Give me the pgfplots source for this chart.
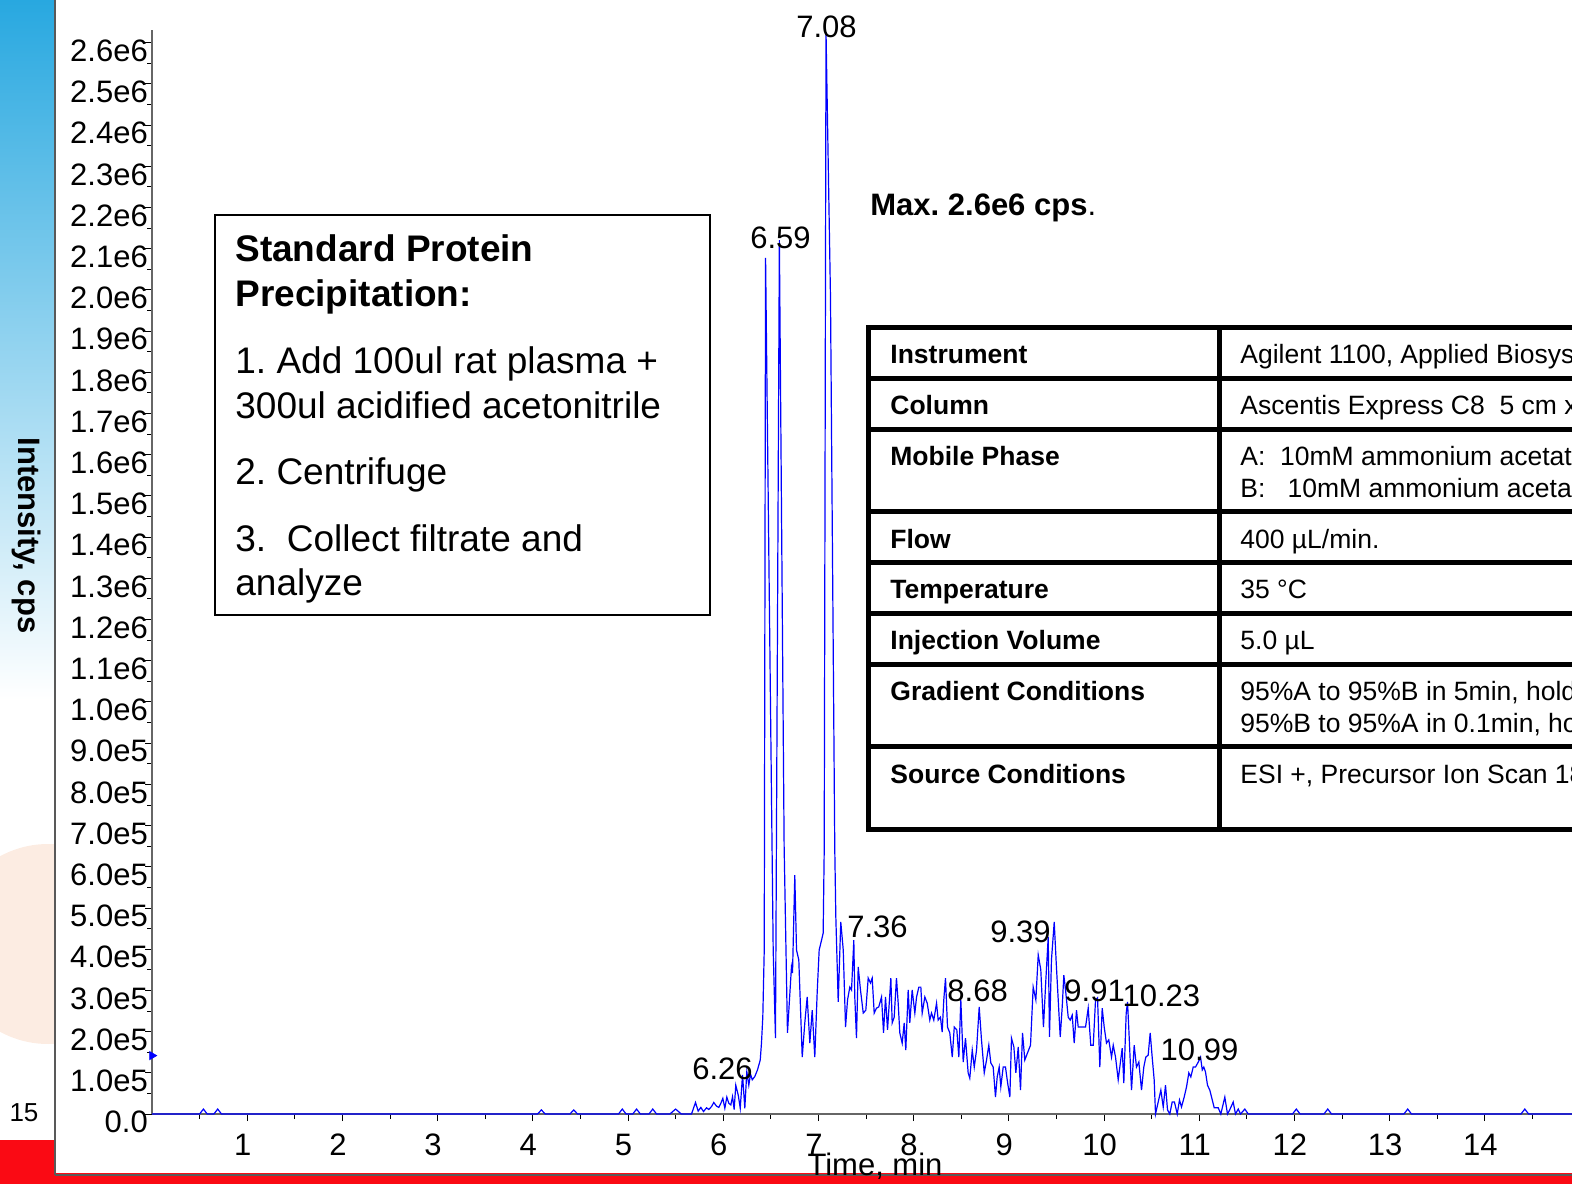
\documentclass[border=0pt]{standalone}
\usepackage{pgfplots}
\pgfplotsset{compat=1.18}
\usepackage{fontspec}
\setmainfont{Liberation Sans}
\frenchspacing
\definecolor{stripblue}{RGB}{40,168,224}
\definecolor{stripcyan}{RGB}{196,238,248}
\definecolor{slidered}{RGB}{250,10,20}
\definecolor{blob}{RGB}{252,236,226}
\definecolor{traceblue}{RGB}{0,0,255}
\newcommand{\tickfont}{\fontsize{15.5}{18}\selectfont}
\newcommand{\boxfont}{\fontsize{18.5}{22}\selectfont}
\newcommand{\tabfont}{\fontsize{13.25}{16}\selectfont}
\begin{document}
\begin{tikzpicture}[x=1pt,y=1pt]
\useasboundingbox (0,0) rectangle (786,592);
\clip (0,0) rectangle (786,592);
% slide decoration
\shade[top color=stripblue, middle color=stripcyan, bottom color=white] (0,242) rectangle (27.5,592);
\begin{scope}
\clip (0,22) rectangle (27.5,242);
\fill[blob] (24,120) circle (50);
\end{scope}
\fill[slidered] (0,0) rectangle (27.5,22);
\fill[slidered] (0,0) rectangle (786,5.5);
\draw[black!65, line width=0.8pt] (27.5,4.5) -- (27.5,592);
\draw[black!65, line width=0.8pt] (27.5,4.5) -- (786,4.5);
\node[anchor=base, inner sep=0, font=\fontsize{13}{15}\selectfont] at (12,31.5) {15};

\begin{axis}[
  at={(76pt,35pt)}, anchor=south west,
  scale only axis, width=714pt, height=541.78pt,
  xmin=0, xmax=15, ymin=0, ymax=2630000,
  axis lines=left,
  axis line style={-, draw=black!60, line width=0.9pt},
  tick align=outside,
  major tick length=3.5pt, minor tick length=2.5pt,
  tick style={black, line width=0.5pt},
  xtick={1,2,3,4,5,6,7,8,9,10,11,12,13,14},
  xticklabels={1,2,3,4,5,6,7,8,9,10,11,12,13,14},
  minor xtick={0.5,1.5,...,14.5},
  ytick={0,100000,...,2600000},
  minor ytick={50000,150000,...,2550000},
  yticklabels={0.0,1.0e5,2.0e5,3.0e5,4.0e5,5.0e5,6.0e5,7.0e5,8.0e5,9.0e5,1.0e6,1.1e6,1.2e6,1.3e6,1.4e6,1.5e6,1.6e6,1.7e6,1.8e6,1.9e6,2.0e6,2.1e6,2.2e6,2.3e6,2.4e6,2.5e6,2.6e6},
  scaled y ticks=false,
  ticklabel style={font=\tickfont},
  xticklabel style={anchor=center, yshift=-12pt, xshift=-2.25pt},
  yticklabel style={anchor=east, inner sep=0pt, xshift=1.6pt, yshift=-4pt},
  xlabel={Time, min},
  ylabel={Intensity, cps},
  xlabel style={at={(axis description cs:0.5063,-0.048)}, anchor=center, font=\tickfont},
  ylabel style={at={(axis description cs:-0.0882,0.534)}, anchor=center, rotate=180, font=\bfseries\fontsize{15.5}{18}\selectfont},
  clip=false,
]
\addplot[traceblue, line width=0.6pt, mark=none] coordinates {
(0,0) (0.50,0) (0.54,0.12e5) (0.58,0) (0.65,0) (0.69,0.12e5) (0.73,0) (4.05,0) (4.09,0.1e5) (4.13,0) (4.39,0) (4.43,0.1e5) (4.47,0) (4.90,0) (4.94,0.12e5) (4.98,0) (5.05,0) (5.09,0.12e5) (5.13,0) (5.22,0) (5.26,0.12e5) (5.30,0) (5.44,0) (5.50,0.12e5) (5.56,0) (5.667,0)
(5.709,0.28e5) (5.737,0.07e5) (5.765,0.16e5) (5.793,0.06e5) (5.825,0.15e5) (5.849,0.11e5) (5.877,0.18e5) (5.901,0.28e5) (5.930,0.19e5) (5.954,0.16e5) (5.975,0.26e5) (5.996,0.38e5) (6.017,0.14e5) (6.038,0.41e5) (6.059,0.26e5) (6.080,0.22e5) (6.098,0.42e5) (6.115,0.11e5) (6.132,0.70e5) (6.158,0.46e5) (6.179,0.14e5) (6.203,0.95e5) (6.227,0.14e5) (6.248,1.03e5) (6.269,0.70e5) (6.287,0.97e5) (6.305,0.83e5) (6.332,0.91e5) (6.360,1.07e5) (6.389,1.31e5) (6.402,1.72e5) (6.416,2.36e5) (6.431,3.98e5)
(6.445,20.78e5) (6.525,3.98e5) (6.549,1.84e5) (6.590,21.21e5) (6.640,6.5e5) (6.675,1.97e5)
(6.717,3.57e5) (6.728,3.42e5) (6.752,5.80e5) (6.770,3.98e5) (6.794,3.74e5) (6.830,1.38e5) (6.857,2.21e5) (6.882,2.84e5) (6.910,1.72e5) (6.935,2.52e5) (6.962,1.38e5) (6.987,2.94e5) (7.008,3.98e5) (7.033,4.22e5) (7.050,4.39e5) (7.061,6.41e5)
(7.080,26.26e5) (7.127,19.8e5) (7.172,6.41e5) (7.183,4.78e5) (7.208,2.72e5) (7.235,4.66e5) (7.261,3.98e5) (7.285,2.11e5) (7.306,2.77e5) (7.330,3.08e5) (7.348,3.01e5) (7.372,4.22e5) (7.382,2.84e5) (7.400,1.84e5) (7.418,3.57e5) (7.442,3.01e5) (7.471,2.45e5) (7.498,2.52e5) (7.523,3.30e5) (7.547,3.18e5) (7.565,3.30e5) (7.586,2.45e5) (7.610,2.57e5) (7.634,2.60e5) (7.663,2.84e5) (7.684,1.97e5) (7.705,2.84e5) (7.726,2.04e5) (7.761,3.30e5) (7.775,2.21e5) (7.796,2.35e5) (7.820,3.30e5) (7.838,2.69e5) (7.855,1.97e5) (7.880,1.72e5) (7.901,2.21e5) (7.918,1.55e5) (7.943,3.01e5) (7.960,2.21e5) (7.985,3.01e5)
(8.013,2.45e5) (8.031,2.84e5) (8.055,3.08e5) (8.076,3.08e5) (8.090,2.45e5) (8.118,2.84e5) (8.143,2.69e5) (8.170,2.28e5) (8.188,2.45e5) (8.212,2.28e5) (8.241,2.69e5) (8.258,2.28e5) (8.282,2.35e5) (8.300,1.99e5) (8.317,2.77e5) (8.335,3.30e5) (8.356,2.11e5) (8.380,1.97e5) (8.406,1.38e5) (8.427,2.11e5) (8.454,2.04e5) (8.475,1.38e5) (8.496,2.77e5) (8.521,1.26e5) (8.545,1.84e5) (8.573,1.00e5) (8.590,0.87e5) (8.616,1.55e5) (8.637,1.14e5) (8.661,1.55e5) (8.689,2.60e5) (8.713,1.80e5) (8.742,1.00e5) (8.766,1.31e5) (8.790,1.67e5) (8.811,1.24e5) (8.836,1.14e5) (8.860,0.41e5) (8.878,0.90e5) (8.899,1.14e5) (8.916,0.66e5) (8.941,1.14e5) (8.965,1.14e5) (8.986,0.78e5)
(9.011,0.41e5) (9.028,1.84e5) (9.053,1.63e5) (9.074,1.00e5) (9.099,1.63e5) (9.123,0.58e5) (9.144,1.97e5) (9.168,1.31e5) (9.196,1.48e5) (9.228,1.67e5) (9.256,3.08e5) (9.284,2.77e5) (9.309,3.86e5) (9.336,3.50e5) (9.364,2.11e5) (9.389,3.25e5) (9.414,4.30e5) (9.427,1.87e5) (9.448,3.74e5) (9.477,4.66e5) (9.498,3.67e5) (9.519,2.77e5) (9.540,1.87e5) (9.561,2.60e5) (9.578,3.37e5) (9.596,3.01e5) (9.624,2.35e5) (9.645,2.28e5) (9.666,2.40e5) (9.687,1.72e5) (9.711,2.52e5) (9.729,2.11e5) (9.753,2.11e5) (9.782,2.11e5) (9.806,2.11e5) (9.834,2.57e5) (9.861,1.67e5) (9.887,1.67e5) (9.911,2.77e5) (9.932,2.82e5) (9.956,1.14e5) (9.981,2.57e5)
(10.002,2.11e5) (10.026,1.72e5) (10.050,1.80e5) (10.079,1.38e5) (10.097,1.67e5) (10.121,1.38e5) (10.149,0.83e5) (10.166,1.14e5) (10.191,1.60e5) (10.208,0.75e5) (10.233,2.45e5) (10.247,2.72e5) (10.261,2.04e5) (10.289,0.58e5) (10.317,1.67e5) (10.341,1.14e5) (10.366,1.26e5) (10.394,0.58e5) (10.418,1.14e5) (10.439,1.38e5) (10.464,1.43e5) (10.485,1.97e5) (10.506,1.38e5) (10.527,0.83e5) (10.541,0) (10.569,0.29e5) (10.597,0.58e5) (10.622,0.17e5) (10.646,0.70e5) (10.667,0.10e5) (10.691,0) (10.716,0.29e5) (10.740,0.29e5) (10.769,0) (10.793,0.34e5) (10.814,0.17e5) (10.842,0.41e5) (10.867,0.66e5) (10.891,1.00e5) (10.912,0.90e5) (10.937,1.14e5) (10.961,1.14e5) (10.990,1.26e5)
(11.014,1.38e5) (11.032,1.07e5) (11.048,1.14e5) (11.066,1.02e5) (11.087,0.70e5) (11.111,0.58e5) (11.137,0.34e5) (11.158,0.15e5) (11.200,0.15e5) (11.227,0) (11.269,0.41e5) (11.297,0) (11.320,0.1e5) (11.357,0.29e5) (11.381,0) (11.410,0.12e5) (11.434,0) (11.479,0.12e5) (11.515,0)
(11.98,0) (12.02,0.12e5) (12.06,0) (12.31,0) (12.35,0.12e5) (12.39,0) (13.15,0) (13.19,0.12e5) (13.23,0) (14.38,0) (14.42,0.12e5) (14.46,0) (15,0)
};
\addplot[only marks, mark=triangle*, mark size=2.3pt, traceblue, mark options={rotate=-90, xshift=-1.8pt}] coordinates {(0,1.33e5)};
\begin{scope}[every node/.style={font=\tickfont, inner sep=0pt, anchor=center}]
\node at (axis cs:7.085,2.638e6) {7.08};
\node at (axis cs:6.602,2.126e6) {6.59};
\node at (axis cs:7.620,4.54e5) {7.36};
\node at (axis cs:8.672,2.985e5) {8.68};
\node at (axis cs:9.123,4.417e5) {9.39};
\node at (axis cs:9.901,2.985e5) {9.91};
\node at (axis cs:10.603,2.864e5) {10.23};
\node at (axis cs:11.003,1.553e5) {10.99};
\node at (axis cs:5.992,1.10e5) {6.26};
\end{scope}
\end{axis}

% protocol box
\draw[black, line width=0.9pt] (107.5,284.5) rectangle (355,484.5);
\begin{scope}[every node/.style={anchor=base west, inner sep=0pt}]
\node[font=\bfseries\boxfont] at (117.5,461) {Standard Protein};
\node[font=\bfseries\boxfont] at (117.5,438.5) {Precipitation:};
\node[font=\boxfont] at (117.5,405) {1. Add 100ul rat plasma +};
\node[font=\boxfont] at (117.5,382.5) {300ul acidified acetonitrile};
\node[font=\boxfont] at (117.5,349.5) {2. Centrifuge};
\node[font=\boxfont] at (117.5,316) {3.\ \ Collect filtrate and};
\node[font=\boxfont] at (117.5,294) {analyze};
\node[font=\tickfont] at (435,484) {\textbf{Max. 2.6e6 cps}.};
\end{scope}

% conditions table
\begin{scope}[line width=2.5pt]
\draw (800,428.25) -- (434.25,428.25) -- (434.25,177.25) -- (800,177.25);
\draw (609.75,177.25) -- (609.75,428.25);
\foreach \yy in {402.75,377.25,336,310.5,285,259.5,219} {\draw (434.25,\yy) -- (800,\yy);}
\end{scope}
\begin{scope}[every node/.style={anchor=base west, inner sep=0pt, font=\tabfont}]
\node[font=\bfseries\tabfont] at (445,410.25) {Instrument};
\node[font=\bfseries\tabfont] at (445,384.75) {Column};
\node[font=\bfseries\tabfont] at (445,359.25) {Mobile Phase};
\node[font=\bfseries\tabfont] at (445,317.75) {Flow};
\node[font=\bfseries\tabfont] at (445,292.75) {Temperature};
\node[font=\bfseries\tabfont] at (445,267.25) {Injection Volume};
\node[font=\bfseries\tabfont] at (445,241.75) {Gradient Conditions};
\node[font=\bfseries\tabfont] at (445,200.25) {Source Conditions};
\node at (620,410.25) {Agilent 1100, Applied Biosystems API 3200};
\node at (620,384.75) {Ascentis Express C8\ \ 5 cm x 2.1 mm};
\node at (620,359.25) {A:\ \ 10mM ammonium acetate};
\node at (620,343.25) {B:\ \ \ 10mM ammonium acetate};
\node at (620,317.75) {400 µL/min.};
\node at (620,292.75) {35 °C};
\node at (620,267.25) {5.0 µL};
\node at (620,241.75) {95\%A to 95\%B in 5min, hold};
\node at (620,225.75) {95\%B to 95\%A in 0.1min, hold};
\node at (620,200.25) {ESI +, Precursor Ion Scan 184};
\end{scope}
\end{tikzpicture}
\end{document}
